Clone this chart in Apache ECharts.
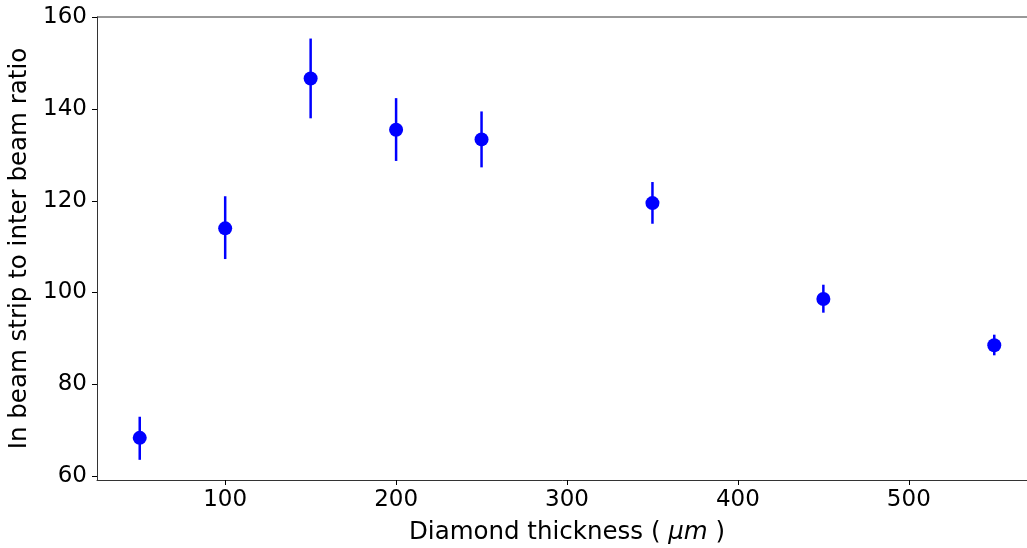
<!DOCTYPE html>
<html>
<head>
<meta charset="utf-8">
<script src="https://cdn.jsdelivr.net/npm/echarts@6/dist/echarts.min.js"></script>
<style>
  html, body { margin: 0; padding: 0; background: #fff; }
  #chart { width: 1027px; height: 548px; }
</style>
</head>
<body>
<div id="chart"></div>
<script>
// thickness (um) and measured ratio with error bounds
var thickness = [50, 100, 150, 200, 250, 350, 450, 550];
var ratio     = [68.3, 114.0, 146.7, 135.5, 133.4, 119.5, 98.6, 88.5];
var errLow    = [63.5, 107.3, 138.0, 128.7, 127.3, 115.0, 95.6, 86.3];
var errHigh   = [72.9, 121.0, 155.4, 142.4, 139.5, 124.1, 101.7, 90.8];
var xTicks = [100, 200, 300, 400, 500];
var yTicks = [60, 80, 100, 120, 140, 160];

var font = 'DejaVu Sans';
var blue = '#0000ff';

var errData = thickness.map(function (t, i) { return [t, errLow[i], errHigh[i]]; });
var pts = thickness.map(function (t, i) { return [t, ratio[i]]; });

var chart = echarts.init(document.getElementById('chart'));
chart.setOption({
    animation: false,
    grid: { left: 97, width: 940, top: 17, bottom: 68, outerBoundsMode: 'none', containLabel: false },
    xAxis: {
        type: 'value',
        min: 25,
        max: 575,
        name: 'Diamond thickness ( {it|μm} )',
        nameLocation: 'middle',
        nameGap: 40,
        nameTextStyle: {
            fontFamily: font, fontSize: 24.5, color: '#000',
            rich: { it: { fontFamily: font, fontSize: 24.5, fontStyle: 'italic', color: '#000' } }
        },
        splitLine: { show: false },
        axisLine: { lineStyle: { color: '#333', width: 1 } },
        axisTick: { show: true, inside: false, length: 5, customValues: xTicks, lineStyle: { color: '#000' } },
        axisLabel: { customValues: xTicks, fontFamily: font, fontSize: 23, color: '#000', margin: 9 }
    },
    yAxis: {
        type: 'value',
        min: 59.1,
        max: 160.1,
        name: 'In beam strip to inter beam ratio',
        nameLocation: 'middle',
        nameRotate: 90,
        nameGap: 59,
        nameTextStyle: { fontFamily: font, fontSize: 24.5, color: '#000' },
        splitLine: { show: false },
        axisLine: { show: true, lineStyle: { color: '#333', width: 1 } },
        axisTick: { show: true, inside: false, length: 5, customValues: yTicks, lineStyle: { color: '#000' } },
        axisLabel: { customValues: yTicks, fontFamily: font, fontSize: 23, color: '#000', margin: 10 }
    },
    series: [
        {
            type: 'custom',
            data: errData,
            renderItem: function (params, api) {
                var top = api.coord([api.value(0), api.value(2)]);
                var bot = api.coord([api.value(0), api.value(1)]);
                return {
                    type: 'line',
                    shape: { x1: top[0], y1: top[1], x2: bot[0], y2: bot[1] },
                    style: { stroke: blue, lineWidth: 2.5 }
                };
            },
            z: 2
        },
        {
            type: 'scatter',
            data: pts,
            symbol: 'circle',
            symbolSize: 14,
            itemStyle: { color: blue, opacity: 1 },
            z: 3
        }
    ]
});
// top spine
chart.setOption({
    graphic: [{
        type: 'line',
        shape: { x1: 97, y1: 17, x2: 1027, y2: 17 },
        style: { stroke: '#333', lineWidth: 1 }
    }]
});
</script>
</body>
</html>
